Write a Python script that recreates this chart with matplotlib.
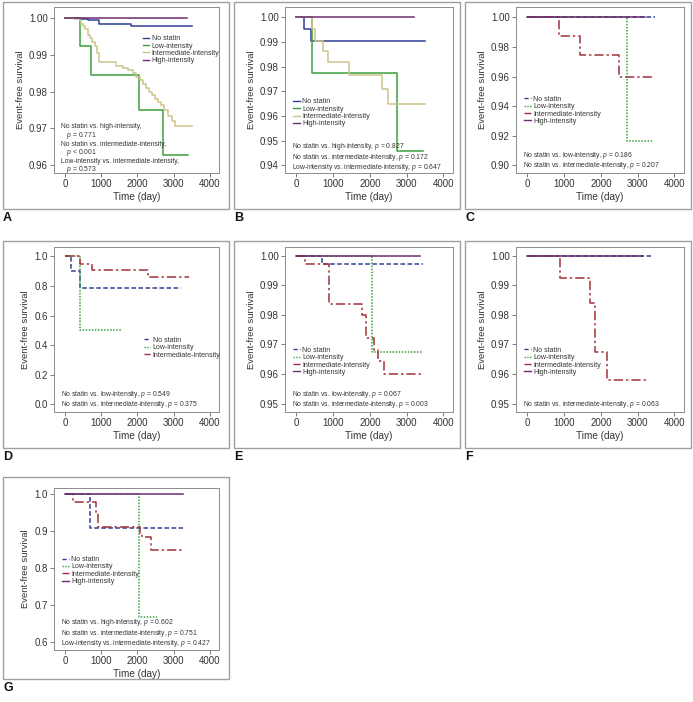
import matplotlib
matplotlib.use("Agg")
import matplotlib.pyplot as plt
from matplotlib.lines import Line2D
from matplotlib.patches import Rectangle
import matplotlib.font_manager as fm

plt.rcParams['font.family'] = ['Liberation Sans', 'DejaVu Sans']
plt.rcParams['mathtext.fontset'] = 'custom'
plt.rcParams['mathtext.it'] = 'Liberation Sans:italic'
plt.rcParams['mathtext.rm'] = 'Liberation Sans'

names = set(f.name for f in fm.fontManager.ttflist)
NARROW = 'Liberation Sans Narrow' if 'Liberation Sans Narrow' in names else 'Liberation Sans'

# ---------------- data ----------------
groups = ["No statin", "Low-intensity", "Intermediate-intensity", "High-intensity"]
x_ticks = [0, 1000, 2000, 3000, 4000]

# Panel A
A_nostatin_t = [0, 400, 630, 950, 1830, 3500]
A_nostatin_s = [1.0, 0.9998, 0.9994, 0.9985, 0.9979, 0.9979]
A_low_t = [0, 406, 720, 2041, 2707, 3410]
A_low_s = [1.0, 0.9924, 0.9844, 0.9751, 0.9628, 0.9628]
A_inter_t = [0, 250, 400, 450, 500, 560, 620, 680, 750, 820, 880, 950, 1420, 1600, 1740,
             1880, 1970, 2060, 2150, 2230, 2320, 2400, 2480, 2560, 2650, 2750, 2850, 2950, 3030, 3520]
A_inter_s = [1.0, 0.9998, 0.9993, 0.9985, 0.9978, 0.9970, 0.9955, 0.9945, 0.9935, 0.9925, 0.9905,
             0.9880, 0.9870, 0.9865, 0.9860, 0.9850, 0.9840, 0.9832, 0.9820, 0.9810, 0.9800, 0.9790,
             0.9780, 0.9772, 0.9765, 0.9750, 0.9735, 0.9720, 0.9708, 0.9708]
A_high_t = [0, 3380]
A_high_s = [1.0, 1.0]
A_yticks = [0.96, 0.97, 0.98, 0.99, 1.00]
A_text = ["No statin vs. high-intensity,", "   $p$ = 0.771",
          "No statin vs. intermediate-intensity,", "   $p$ < 0.001",
          "Low-intensity vs. intermediate-intensity,", "   $p$ = 0.573"]

# Panel B
B_nostatin_t = [0, 200, 385, 3500]
B_nostatin_s = [1.0, 0.9953, 0.9905, 0.9905]
B_low_t = [0, 413, 2725, 3450]
B_low_s = [1.0, 0.9775, 0.9457, 0.9457]
B_inter_t = [0, 413, 505, 734, 872, 1440, 2321, 2486, 3500]
B_inter_s = [1.0, 0.9953, 0.9905, 0.9862, 0.9817, 0.9767, 0.9709, 0.9649, 0.9649]
B_high_t = [0, 3210]
B_high_s = [1.0, 1.0]
B_yticks = [0.94, 0.95, 0.96, 0.97, 0.98, 0.99, 1.00]
B_text = ["No statin vs. high-intensity, $p$ = 0.827",
          "No statin vs. intermediate-intensity, $p$ = 0.172",
          "Low-intensity vs. intermediate-intensity, $p$ = 0.647"]

# Panel C
C_nostatin_t = [0, 3480]
C_nostatin_s = [1.0, 1.0]
C_low_t = [0, 2720, 3420]
C_low_s = [1.0, 0.9167, 0.9167]
C_inter_t = [0, 872, 1430, 2486, 3470]
C_inter_s = [1.0, 0.9874, 0.9746, 0.9597, 0.9597]
C_high_t = [0, 3190]
C_high_s = [1.0, 1.0]
C_yticks = [0.90, 0.92, 0.94, 0.96, 0.98, 1.00]
C_text = ["No statin vs. low-intensity, $p$ = 0.186",
          "No statin vs. intermediate-intensity, $p$ = 0.207"]

# Panel D
D_nostatin_t = [0, 170, 400, 3220]
D_nostatin_s = [1.0, 0.900, 0.786, 0.786]
D_low_t = [0, 400, 1580]
D_low_s = [1.0, 0.5, 0.5]
D_inter_t = [0, 400, 740, 2300, 3420]
D_inter_s = [1.0, 0.946, 0.905, 0.858, 0.858]
D_yticks = [0.0, 0.2, 0.4, 0.6, 0.8, 1.0]
D_text = ["No statin vs. low-intensity, $p$ = 0.549",
          "No statin vs. intermediate-intensity, $p$ = 0.375"]

# Panel E
E_nostatin_t = [0, 700, 3450]
E_nostatin_s = [1.0, 0.9970, 0.9970]
E_low_t = [0, 2050, 3450]
E_low_s = [1.0, 0.9675, 0.9675]
E_inter_t = [0, 230, 900, 1790, 1880, 2120, 2220, 2370, 3450]
E_inter_s = [1.0, 0.9970, 0.9837, 0.9800, 0.9722, 0.9680, 0.9643, 0.9600, 0.9600]
E_high_t = [0, 3350]
E_high_s = [1.0, 1.0]
E_yticks = [0.95, 0.96, 0.97, 0.98, 0.99, 1.00]
E_text = ["No statin vs. low-intensity, $p$ = 0.067",
          "No statin vs. intermediate-intensity, $p$ = 0.003"]

# Panel F
F_nostatin_t = [0, 3350]
F_nostatin_s = [1.0, 1.0]
F_inter_t = [0, 890, 1710, 1850, 2170, 3240]
F_inter_s = [1.0, 0.9925, 0.9840, 0.9673, 0.9581, 0.9581]
F_high_t = [0, 3150]
F_high_s = [1.0, 1.0]
F_yticks = [0.95, 0.96, 0.97, 0.98, 0.99, 1.00]
F_text = ["No statin vs. intermediate-intensity, $p$ = 0.063"]

# Panel G
G_nostatin_t = [0, 700, 3260]
G_nostatin_s = [1.0, 0.909, 0.909]
G_low_t = [0, 2050, 2530]
G_low_s = [1.0, 0.668, 0.668]
G_inter_t = [0, 230, 850, 910, 2070, 2140, 2370, 3260]
G_inter_s = [1.0, 0.979, 0.949, 0.912, 0.893, 0.883, 0.850, 0.850]
G_high_t = [0, 3260]
G_high_s = [1.0, 1.0]
G_yticks = [0.6, 0.7, 0.8, 0.9, 1.0]
G_text = ["No statin vs. high-intensity, $p$ = 0.602",
          "No statin vs. intermediate-intensity, $p$ = 0.751",
          "Low-intensity vs. intermediate-intensity, $p$ = 0.427"]

# ---------------- styles ----------------
BLUE = '#2f3f91'
GREEN = '#3c9f3c'
KHAKI = '#cdc38a'
PURPLE = '#6c2d72'
RED = '#9e3139'

solid_styles = {
    "No statin": dict(color=BLUE, ls='-'),
    "Low-intensity": dict(color=GREEN, ls='-'),
    "Intermediate-intensity": dict(color=KHAKI, ls='-'),
    "High-intensity": dict(color=PURPLE, ls='-'),
}
dash_styles = {
    "No statin": dict(color=BLUE, ls=(0, (3, 1.6))),
    "Low-intensity": dict(color=GREEN, ls=(0, (1, 1))),
    "Intermediate-intensity": dict(color=RED, ls=(0, (6, 2, 1.5, 2))),
    "High-intensity": dict(color=PURPLE, ls='-'),
}

W, H = 693, 702
PT = 0.72  # points per pixel at dpi 100
fig = plt.figure(figsize=(W / 100, H / 100), dpi=100)


def fx(x):
    return x / W


def fy(y):
    return 1 - y / H


def make_panel(letter, box, axbox, ylim, yticks, yfmt, series, styles, legend_groups,
               leg_pos, texts, text_base):
    bx0, by0, bx1, by1 = box
    fig.patches.append(Rectangle((fx(bx0), fy(by1)), fx(bx1) - fx(bx0), fy(by0) - fy(by1),
                                 transform=fig.transFigure, fill=False,
                                 edgecolor='#a0a0a0', lw=1.0))
    ax0, ay0, ax1, ay1 = axbox
    ax = fig.add_axes([fx(ax0), fy(ay1), fx(ax1) - fx(ax0), fy(ay0) - fy(ay1)])
    for name, t, s in series:
        st = styles[name]
        ax.step(t, s, where='post', color=st['color'], ls=st['ls'], lw=1.1)
    ax.set_xlim(-310, 4260)
    ax.set_ylim(*ylim)
    ax.set_xticks(x_ticks)
    ax.set_yticks(yticks)
    ax.set_yticklabels([yfmt % v for v in yticks])
    ax.tick_params(labelsize=7, length=3, width=0.6, color='#666666', labelcolor='#333333', pad=1.5)
    for sp in ax.spines.values():
        sp.set_color('#8c8c8c')
        sp.set_linewidth(0.7)
    ax.set_xlabel("Time (day)", fontsize=7.2, color='#333333', labelpad=2)
    ax.set_ylabel("Event-free survival", fontsize=6.8, color='#333333', labelpad=3)
    handles = [Line2D([], [], color=styles[g]['color'], ls=styles[g]['ls'], lw=1.0)
               for g in legend_groups]
    leg = ax.legend(handles, legend_groups, loc='upper left', bbox_to_anchor=leg_pos,
                    frameon=False, prop={'family': NARROW, 'size': 5.0},
                    handlelength=0.9, handletextpad=0.35, labelspacing=0.05,
                    borderaxespad=0, borderpad=0)
    for txt in leg.get_texts():
        txt.set_color('#333333')
    ax.annotate("\n".join(texts), xy=(0, 0), xycoords='axes fraction',
                xytext=(7 * PT, (text_base - 2.3) * PT), textcoords='offset points',
                ha='left', va='baseline', fontsize=4.9, family=NARROW, color='#333333',
                linespacing=0.93)
    lx, ly = {'A': (3, 218), 'B': (234, 218), 'C': (465, 218), 'D': (3, 457),
              'E': (234, 457), 'F': (465, 457), 'G': (3, 688)}[letter]
    fig.text(fx(lx), fy(ly), letter, ha='left', va='center', fontsize=9,
             fontweight='bold', color='#111111')
    return ax


make_panel('A', (3, 2, 229, 209), (54, 7, 219, 173), (0.9579, 1.003), A_yticks, '%.2f',
           [("No statin", A_nostatin_t, A_nostatin_s), ("Low-intensity", A_low_t, A_low_s),
            ("Intermediate-intensity", A_inter_t, A_inter_s), ("High-intensity", A_high_t, A_high_s)],
           solid_styles, groups, (0.54, 0.83), A_text, 4)

make_panel('B', (234, 2, 460, 209), (285, 7, 453, 173), (0.9369, 1.0042), B_yticks, '%.2f',
           [("No statin", B_nostatin_t, B_nostatin_s), ("Low-intensity", B_low_t, B_low_s),
            ("Intermediate-intensity", B_inter_t, B_inter_s), ("High-intensity", B_high_t, B_high_s)],
           solid_styles, groups, (0.05, 0.45), B_text, 6)

make_panel('C', (465, 2, 691, 209), (516, 7, 684, 173), (0.8948, 1.007), C_yticks, '%.2f',
           [("No statin", C_nostatin_t, C_nostatin_s), ("Low-intensity", C_low_t, C_low_s),
            ("Intermediate-intensity", C_inter_t, C_inter_s), ("High-intensity", C_high_t, C_high_s)],
           dash_styles, groups, (0.05, 0.465), C_text, 8)

make_panel('D', (3, 241, 229, 448), (54, 247, 219, 412), (-0.052, 1.063), D_yticks, '%.1f',
           [("No statin", D_nostatin_t, D_nostatin_s), ("Low-intensity", D_low_t, D_low_s),
            ("Intermediate-intensity", D_inter_t, D_inter_s)],
           dash_styles, groups[:3], (0.545, 0.455), D_text, 8)

make_panel('E', (234, 241, 460, 448), (285, 247, 453, 412), (0.9472, 1.0029), E_yticks, '%.2f',
           [("No statin", E_nostatin_t, E_nostatin_s), ("Low-intensity", E_low_t, E_low_s),
            ("Intermediate-intensity", E_inter_t, E_inter_s), ("High-intensity", E_high_t, E_high_s)],
           dash_styles, groups, (0.05, 0.395), E_text, 8)

make_panel('F', (465, 241, 691, 448), (516, 247, 684, 412), (0.9472, 1.0029), F_yticks, '%.2f',
           [("No statin", F_nostatin_t, F_nostatin_s),
            ("Intermediate-intensity", F_inter_t, F_inter_s), ("High-intensity", F_high_t, F_high_s)],
           dash_styles, groups, (0.05, 0.395), F_text, 8)

make_panel('G', (3, 477, 229, 679), (54, 488, 219, 650), (0.579, 1.016), G_yticks, '%.1f',
           [("No statin", G_nostatin_t, G_nostatin_s), ("Low-intensity", G_low_t, G_low_s),
            ("Intermediate-intensity", G_inter_t, G_inter_s), ("High-intensity", G_high_t, G_high_s)],
           dash_styles, groups, (0.05, 0.58), G_text, 7)

fig.savefig("out.png", dpi=100)
